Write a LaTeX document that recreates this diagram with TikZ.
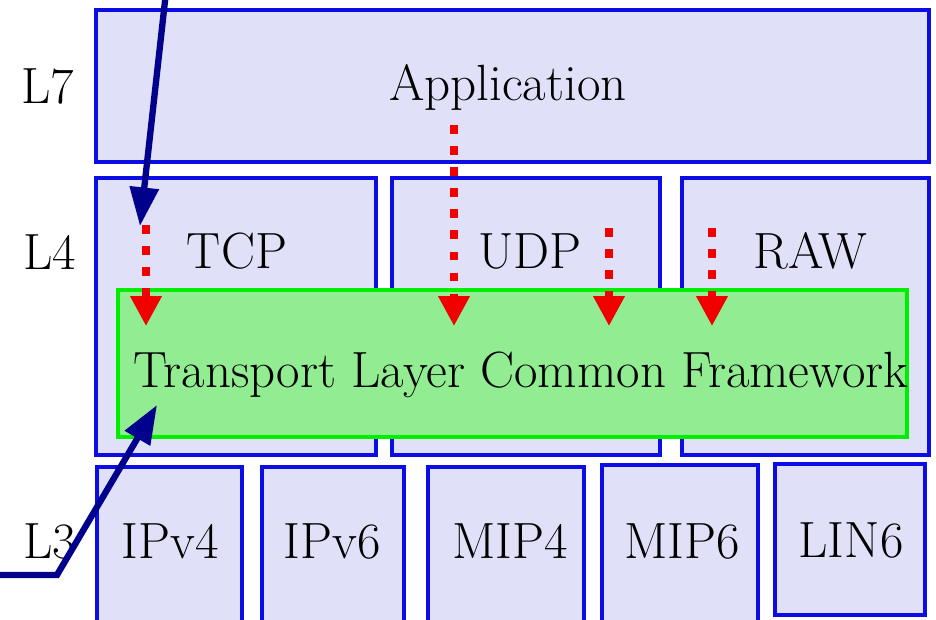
\documentclass[tikz,border=0pt]{standalone}
\usetikzlibrary{arrows.meta}
\definecolor{boxfill}{RGB}{224,224,248}
\definecolor{boxline}{RGB}{12,12,230}
\definecolor{tlfill}{RGB}{146,236,146}
\definecolor{tlline}{RGB}{0,238,0}
\definecolor{pointer}{RGB}{0,0,140}
\definecolor{flow}{RGB}{240,0,0}
\tikzset{
  layerbox/.style={draw=boxline,fill=boxfill,line width=2.1pt},
  tlbox/.style={draw=tlline,fill=tlfill,line width=2.1pt},
  lbl/.style={anchor=base,inner sep=0pt,font=\fontsize{29}{35}\selectfont},
  flowarrow/.style={draw=flow,line width=4pt,dash pattern=on 5pt off 7pt,-{Triangle[length=17pt,width=17pt]}},
  pointarrow/.style={draw=pointer,line width=3.6pt,line join=miter,-{Triangle[length=22pt,width=16pt]}}
}
\begin{document}
\begin{tikzpicture}[x=0.02cm,y=-0.02cm]
  \useasboundingbox (0,0) rectangle (936,619);
  \clip (0,0) rectangle (936,619);
  \fill [white] (0,0) rectangle (936,619);
  % layer boxes
  \draw [layerbox] (96,10) rectangle (929,162);
  \draw [layerbox] (96,178) rectangle (376,455);
  \draw [layerbox] (392,178) rectangle (660,455);
  \draw [layerbox] (682,178) rectangle (929,455);
  \draw [layerbox] (97,467) rectangle (242,640);
  \draw [layerbox] (262,467) rectangle (404,640);
  \draw [layerbox] (428,467) rectangle (584,640);
  \draw [layerbox] (602,465) rectangle (758,640);
  \draw [layerbox] (775,464) rectangle (925,615);
  \draw [tlbox] (118,290) rectangle (907,437);
  % labels
  \node [lbl] (l7) at (48,103) {L7};
  \node [lbl] (l4) at (50,269) {L4};
  \node [lbl] (l3) at (50,558) {L3};
  \node [lbl] (app) at (508,100) {Application};
  \node [lbl] (tcp) at (237,268) {TCP};
  \node [lbl] (udp) at (530,268) {UDP};
  \node [lbl] (raw) at (810,268) {RAW};
  \node [lbl] (tlcf) at (521,387) {Transport Layer Common Framework};
  \node [lbl] (ipv4) at (170,558) {IPv4};
  \node [lbl] (ipv6) at (332,558) {IPv6};
  \node [lbl] (mip4) at (510,558) {MIP4};
  \node [lbl] (mip6) at (682,558) {MIP6};
  \node [lbl] (lin6) at (851,557) {LIN6};
  % flow into the common framework
  \coordinate (tcpfrom) at (146,225);
  \coordinate (tcpto) at (146,326);
  \coordinate (appfrom) at (454,125);
  \coordinate (appto) at (454,326);
  \coordinate (udpfrom) at (609,228);
  \coordinate (udpto) at (609,326);
  \coordinate (rawfrom) at (712,228);
  \coordinate (rawto) at (712,326);
  \draw [flowarrow] (tcpfrom) -- (tcpto);
  \draw [flowarrow] (appfrom) -- (appto);
  \draw [flowarrow] (udpfrom) -- (udpto);
  \draw [flowarrow] (rawfrom) -- (rawto);
  % pointers
  \coordinate (topfree) at (166,-8);
  \coordinate (toptip) at (140,226);
  \coordinate (botfree) at (-8,575);
  \coordinate (botbend) at (57,575);
  \coordinate (bottip) at (157,405);
  \draw [pointarrow] (topfree) -- (toptip);
  \draw [pointarrow] (botfree) -- (botbend) -- (bottip);
\end{tikzpicture}
\end{document}
